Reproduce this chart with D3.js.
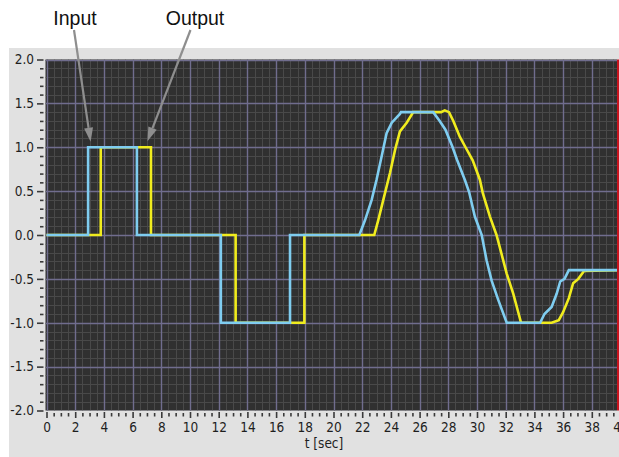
<!DOCTYPE html>
<html><head><meta charset="utf-8">
<script src="https://cdn.jsdelivr.net/npm/d3@7"></script>
<style>html,body{margin:0;padding:0;background:#fff;}svg{display:block;}</style>
</head><body>
<svg id="c" width="619" height="457"></svg>
<script>
// ---- data ----
const inputT = [0, 2.9, 2.9, 6.3, 6.3, 12.15, 12.15, 16.97, 16.97, 21.8, 22.2, 22.66, 23.0, 23.36, 23.7, 24.06, 24.63, 24.7, 26.95, 27.4, 27.8, 28.3, 28.6, 29.15, 29.45, 29.85, 30.33, 30.67, 31.02, 31.48, 32.07, 34.4, 34.7, 35.2, 35.55, 35.8, 36.1, 36.4, 40];
const inputV = [0, 0, 1, 1, 0, 0, -1, -1, 0, 0, 0.17, 0.4, 0.63, 0.9, 1.16, 1.28, 1.38, 1.4, 1.4, 1.3, 1.2, 1.0, 0.86, 0.63, 0.49, 0.21, 0, -0.29, -0.52, -0.74, -1, -1, -0.9, -0.82, -0.67, -0.53, -0.5, -0.4, -0.4];
const outputT = [0, 3.78, 3.78, 7.28, 7.28, 13.18, 13.18, 17.97, 17.97, 22.84, 23.12, 23.47, 23.94, 24.29, 24.63, 25.1, 25.56, 27.5, 27.75, 28.05, 28.35, 28.8, 29.2, 29.7, 30.2, 30.4, 30.9, 31.36, 31.7, 32.07, 32.53, 33.07, 35.2, 35.7, 36.0, 36.4, 36.7, 37.06, 37.46, 40];
const outputV = [0, 0, 1, 1, 0, 0, -1, -1, 0, 0, 0.17, 0.4, 0.71, 0.97, 1.18, 1.28, 1.4, 1.4, 1.42, 1.4, 1.3, 1.12, 1.0, 0.85, 0.63, 0.48, 0.21, 0, -0.21, -0.44, -0.67, -1, -1, -0.97, -0.88, -0.72, -0.55, -0.5, -0.41, -0.4];
const xTickValues = [0, 2, 4, 6, 8, 10, 12, 14, 16, 18, 20, 22, 24, 26, 28, 30, 32, 34, 36, 38, 40];
const yTickValues = [2.0, 1.5, 1.0, 0.5, 0.0, -0.5, -1.0, -1.5, -2.0];
const yTickLabels = ["2.0", "1.5", "1.0", "0.5", "0.0", "-0.5", "-1.0", "-1.5", "-2.0"];
const xLabel = "t [sec]";
const seriesNames = ["Input", "Output"];

// ---- layout ----
const svg = d3.select("#c");
const L = 45.5, R = 617, T = 59.5, B = 410.5;
const x = d3.scaleLinear().domain([0, 40]).range([46.5, 620.5]);
const y = d3.scaleLinear().domain([-2, 2]).range([B, T]);
const font = "'DejaVu Sans Condensed','DejaVu Sans',Tahoma,sans-serif";
const fs = 13.5;

// panel background
svg.append("rect").attr("x", 9).attr("y", 48).attr("width", 610).attr("height", 409).attr("fill", "#e1e1e1");
// plot background
svg.append("rect").attr("x", L).attr("y", T).attr("width", R - L).attr("height", B - T).attr("fill", "#303030");

svg.append("clipPath").attr("id", "pc").append("rect")
  .attr("x", L).attr("y", T).attr("width", R - L).attr("height", B - T);
const plot = svg.append("g").attr("clip-path", "url(#pc)");

// minor grid
const xMinor = d3.range(0, 40.001, 0.5);
const yMinor = d3.range(-2, 2.0001, 0.1);
plot.selectAll(".vmin").data(xMinor).join("line")
  .attr("x1", d => Math.round(x(d)) + 0.5).attr("x2", d => Math.round(x(d)) + 0.5)
  .attr("y1", T).attr("y2", B).attr("stroke", "#494949").attr("stroke-width", 1);
plot.selectAll(".hmin").data(yMinor).join("line")
  .attr("y1", d => Math.round(y(d)) + 0.5).attr("y2", d => Math.round(y(d)) + 0.5)
  .attr("x1", L).attr("x2", R).attr("stroke", "#494949").attr("stroke-width", 1);
// major grid
plot.selectAll(".vmaj").data(xTickValues).join("line")
  .attr("x1", d => Math.round(x(d)) + 0.5).attr("x2", d => Math.round(x(d)) + 0.5)
  .attr("y1", T).attr("y2", B).attr("stroke", "#706d8e").attr("stroke-width", 1.4);
plot.selectAll(".hmaj").data(yTickValues).join("line")
  .attr("y1", d => Math.round(y(d)) + 0.5).attr("y2", d => Math.round(y(d)) + 0.5)
  .attr("x1", L).attr("x2", R).attr("stroke", "#706d8e").attr("stroke-width", 1.4);

// series
const line = d3.line().x(d => x(d[0])).y(d => y(d[1]));
const outData = outputT.map((t, i) => [t, outputV[i]]);
const inData = inputT.map((t, i) => [t, inputV[i]]);
plot.append("path").datum(outData).attr("d", line).attr("fill", "none")
  .attr("stroke", "#f0ec1e").attr("stroke-width", 2.6).attr("stroke-linejoin", "miter");
plot.append("path").datum(inData).attr("d", line).attr("fill", "none")
  .attr("stroke", "#7fcdf0").attr("stroke-width", 2.6).attr("stroke-linejoin", "miter");

// red right edge
svg.append("rect").attr("x", R).attr("y", T).attr("width", 2).attr("height", B - T).attr("fill", "#c8141e");

// axes
const yAxisMaj = d3.axisLeft(y).tickValues(yTickValues).tickSize(6.5).tickPadding(3)
  .tickFormat((d, i) => yTickLabels[i]);
const gy = svg.append("g").attr("transform", `translate(43.5,0)`).call(yAxisMaj);
const yAxisMin = d3.axisLeft(y).tickValues(yMinor.filter(v => Math.abs(v * 2 - Math.round(v * 2)) > 1e-6)).tickSize(3.5).tickFormat("");
const gy2 = svg.append("g").attr("transform", `translate(43.5,0)`).call(yAxisMin);
const xAxisMaj = d3.axisBottom(x).tickValues(xTickValues).tickSize(6).tickPadding(4).tickFormat(d3.format("d"));
const gx = svg.append("g").attr("transform", `translate(0,412)`).call(xAxisMaj);
const xAxisMin = d3.axisBottom(x).tickValues(xMinor.filter(v => v % 2 !== 0)).tickSize(3.5).tickFormat("");
const gx2 = svg.append("g").attr("transform", `translate(0,413)`).call(xAxisMin);
[gy, gy2, gx, gx2].forEach(g => {
  g.select(".domain").remove();
  g.selectAll("line").attr("stroke", "#3a3a3a").attr("stroke-width", 1.6);
  g.selectAll("text").attr("font-family", font).attr("font-size", fs).attr("fill", "#1e1e1e");
});

svg.append("text").attr("x", 324).attr("y", 448).attr("text-anchor", "middle")
  .attr("font-family", font).attr("font-size", fs).attr("fill", "#1e1e1e").text(xLabel);

// annotations
const lf = "'Liberation Sans',Arial,sans-serif";
const annos = [
  { name: seriesNames[0], tx: 75, tipX: x(inputT[1]) + 2.5, tipY: y(1) - 5.5, sx: 74 },
  { name: seriesNames[1], tx: 195, tipX: x(outputT[3]) - 3.5, tipY: y(1) - 6, sx: 190.5 }
];
annos.forEach(a => {
  svg.append("text").attr("x", a.tx).attr("y", 24.5).attr("text-anchor", "middle")
    .attr("font-family", lf).attr("font-size", 19.5).attr("fill", "#111").text(a.name);
  const sy = 30;
  const dx = a.tipX - a.sx, dy = a.tipY - sy, len = Math.hypot(dx, dy);
  const ux = dx / len, uy = dy / len, hl = 14, hw = 4.5;
  const bx = a.tipX - ux * hl, by = a.tipY - uy * hl;
  svg.append("line").attr("x1", a.sx).attr("y1", sy).attr("x2", bx).attr("y2", by)
    .attr("stroke", "#8e8e8e").attr("stroke-width", 2.2);
  svg.append("path").attr("d", `M${a.tipX},${a.tipY}L${bx - uy * hw},${by + ux * hw}L${bx + uy * hw},${by - ux * hw}Z`)
    .attr("fill", "#8e8e8e");
});
</script>
</body></html>
